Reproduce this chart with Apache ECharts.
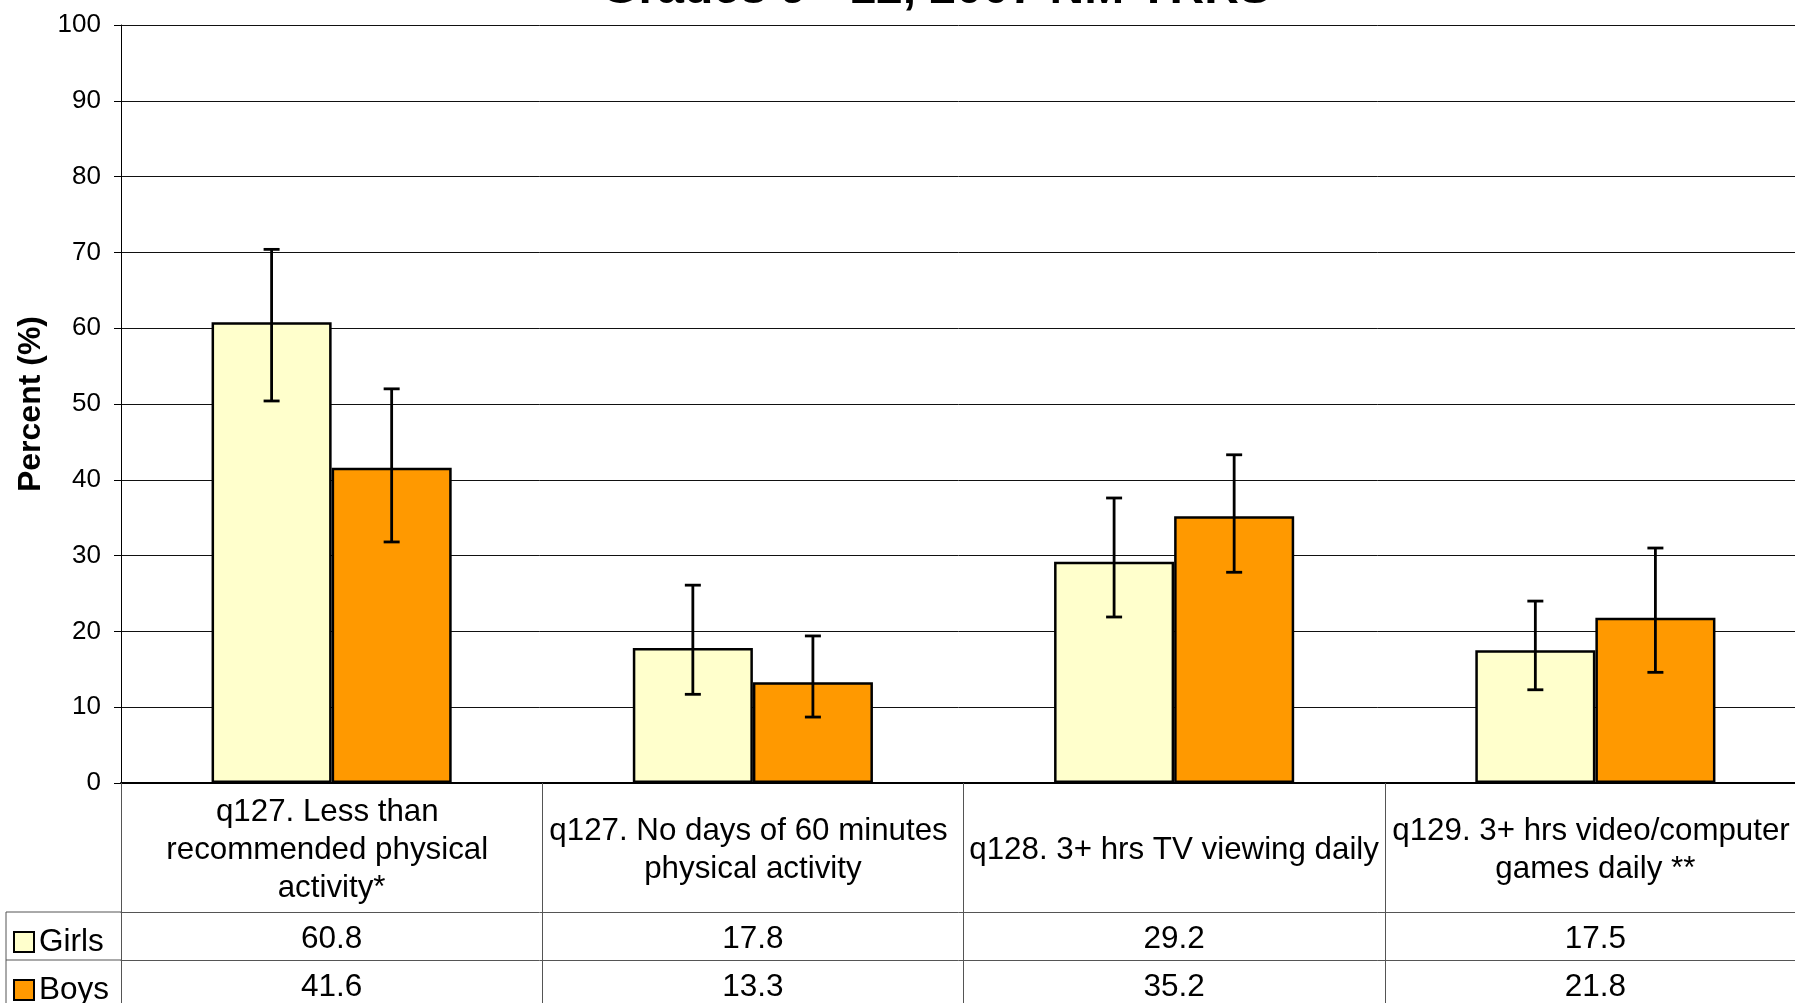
<!DOCTYPE html>
<html><head><meta charset="utf-8">
<script src="https://cdn.jsdelivr.net/npm/echarts@6/dist/echarts.min.js"></script>
<style>html,body{margin:0;padding:0;background:#fff}#c{width:1795px;height:1003px}</style>
</head><body><div id="c"></div><script>
// ---- data ----
const titleText = 'Grades 9 - 12, 2007 NM YRRS';
const yAxisName = 'Percent (%)';
const seriesNames = ['Girls', 'Boys'];
const categories = [
  'q127. Less than recommended physical activity*',
  'q127. No days of 60 minutes physical activity',
  'q128. 3+ hrs TV viewing daily',
  'q129. 3+ hrs video/computer games daily **'
];
const girls = [60.8, 17.8, 29.2, 17.5];
const boys = [41.6, 13.3, 35.2, 21.8];
const girlsLow = [50.4, 11.7, 21.9, 12.3];
const girlsHigh = [70.4, 26.1, 37.6, 24.0];
const boysLow = [31.8, 8.7, 27.8, 14.6];
const boysHigh = [52.0, 19.4, 43.3, 31.0];
const yMin = 0, yMax = 100, yStep = 10;

// ---- style / layout ----
const FONT = '"Liberation Sans", Arial, sans-serif';
const girlsColor = '#FFFFCC';
const boysColor = '#FF9900';
const catGap = 0.43;
const rowLabelH = 129, rowH = 48;
const tableLine = '#555';

const chart = echarts.init(document.getElementById('c'), null, {renderer: 'canvas'});

function errRender(side) {
  return function (params, api) {
    const i = api.value(0);
    const lo = api.coord([i, api.value(1)]);
    const hi = api.coord([i, api.value(2)]);
    const band = api.size([1, 0])[0];
    const barW = band * (1 - catGap) / 2;
    const x = lo[0] + side * barW / 2;
    const cap = 8;
    const st = {stroke: '#000', lineWidth: 2.8};
    return {type: 'group', children: [
      {type: 'line', shape: {x1: x, y1: lo[1], x2: x, y2: hi[1]}, style: st},
      {type: 'line', shape: {x1: x - cap, y1: hi[1], x2: x + cap, y2: hi[1]}, style: st},
      {type: 'line', shape: {x1: x - cap, y1: lo[1], x2: x + cap, y2: lo[1]}, style: st}
    ]};
  };
}

const valueAxis = (vals, offset) => ({
  type: 'category', data: categories, position: 'bottom', offset: offset,
  axisLine: {show: true, lineStyle: {color: tableLine, width: 1}},
  axisTick: {show: false},
  axisLabel: {
    interval: 0, margin: rowH / 2 + 3, verticalAlign: 'middle',
    fontFamily: FONT, fontSize: 31.5, color: '#000',
    formatter: (v, idx) => vals[idx].toFixed(1)
  },
  splitLine: {show: false}
});

const legendItem = (name, top) => ({
  data: [name], orient: 'vertical', left: 13, top: top,
  itemWidth: 20, itemHeight: 20, padding: 0,
  icon: 'rect', selectedMode: false,
  textStyle: {fontFamily: FONT, fontSize: 31.5, color: '#000'}
});

const option = {
  animation: false,
  backgroundColor: '#fff',
  textStyle: {fontFamily: FONT},
  grid: {left: 121, width: 1685, top: 25, height: 758, containLabel: false, outerBoundsMode: 'none'},
  legend: [
    legendItem(seriesNames[0], 783 + rowLabelH + rowH / 2 - 10),
    legendItem(seriesNames[1], 783 + rowLabelH + rowH + rowH / 2 - 10)
  ],
  xAxis: [
    {
      type: 'category', data: categories, position: 'bottom',
      axisLine: {show: true, lineStyle: {color: '#000', width: 2}},
      axisTick: {show: true, interval: 0, length: 240, lineStyle: {color: tableLine, width: 1}},
      axisLabel: {
        interval: 0, margin: rowLabelH / 2 + 2.5, verticalAlign: 'middle',
        fontFamily: FONT, fontSize: 31.3, lineHeight: 38, color: '#000',
        width: 418, overflow: 'break', align: 'center'
      },
      splitLine: {show: false}
    },
    valueAxis(girls, rowLabelH),
    valueAxis(boys, rowLabelH + rowH)
  ],
  yAxis: {
    type: 'value', min: yMin, max: yMax, interval: yStep,
    name: yAxisName, nameLocation: 'middle', nameGap: 71, nameRotate: 90,
    nameTextStyle: {fontFamily: FONT, fontSize: 32, fontWeight: 'bold', color: '#000'},
    axisLine: {show: true, lineStyle: {color: '#000', width: 1}},
    axisTick: {show: true, length: 7, lineStyle: {color: '#000'}},
    axisLabel: {fontFamily: FONT, fontSize: 26, color: '#000', margin: 20},
    splitLine: {show: true, lineStyle: {color: '#111', width: 1}}
  },
  series: [
    {name: seriesNames[0], type: 'bar', data: girls, barGap: '0%', barCategoryGap: (catGap * 100) + '%',
     itemStyle: {color: girlsColor, borderColor: '#000', borderWidth: 2.5}, z: 3},
    {name: seriesNames[1], type: 'bar', data: boys, barGap: '0%', barCategoryGap: (catGap * 100) + '%',
     itemStyle: {color: boysColor, borderColor: '#000', borderWidth: 2.5}, z: 3},
    {name: 'Girls CI', type: 'custom', renderItem: errRender(-1), z: 10,
     encode: {x: 0, y: [1, 2]},
     data: categories.map((c, i) => [i, girlsLow[i], girlsHigh[i]])},
    {name: 'Boys CI', type: 'custom', renderItem: errRender(1), z: 10,
     encode: {x: 0, y: [1, 2]},
     data: categories.map((c, i) => [i, boysLow[i], boysHigh[i]])}
  ]
};
chart.setOption(option);

// table frame pieces left of the plot + title
const y0 = chart.convertToPixel({yAxisIndex: 0}, yMin);
const rect = chart.getModel().getComponent('grid').coordinateSystem.getRect();
const xL = rect.x;
const r1 = y0 + rowLabelH, r2 = r1 + rowH;
const ls = {stroke: tableLine, lineWidth: 1};
chart.setOption({
  graphic: [
    {type: 'line', shape: {x1: 6, y1: r1, x2: xL, y2: r1}, style: ls, silent: true},
    {type: 'line', shape: {x1: 6, y1: r2, x2: xL, y2: r2}, style: ls, silent: true},
    {type: 'line', shape: {x1: 6, y1: r1, x2: 6, y2: 1010}, style: ls, silent: true},
    {type: 'text', x: 936, y: -10, silent: true,
     style: {text: titleText, font: 'bold 48px ' + FONT, align: 'center', verticalAlign: 'middle', fill: '#000'}}
  ]
});
</script></body></html>
